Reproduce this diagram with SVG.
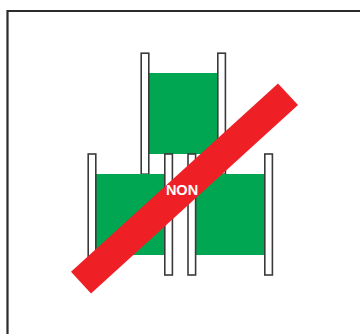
<svg xmlns="http://www.w3.org/2000/svg" width="360" height="334" viewBox="0 0 360 334">
<style>
.post{fill:#fff;stroke:#3a3a3a;stroke-width:1.6}
.load{fill:#00a651}
.frame{fill:none;stroke:#2b2b2b;stroke-width:2.2}
.bar{fill:#ef2025}
.lbl{font-family:"Liberation Sans",Arial,sans-serif;font-weight:700;font-size:14.5px;fill:#fff;text-anchor:middle}
</style>
<rect width="360" height="334" fill="#fff"/>
<path id="frame" class="frame" d="M7.5 334V11H360"/>
<g id="rack-top">
<rect class="load" x="149" y="73" width="68" height="81"/>
<rect class="post" x="141.2" y="53.2" width="7.6" height="121"/>
<rect class="post" x="217.8" y="53.2" width="7.6" height="121"/>
</g>
<g id="rack-left">
<rect class="load" x="96" y="174" width="68" height="81"/>
<rect class="post" x="88.2" y="154" width="7.6" height="121"/>
<rect class="post" x="164.8" y="154" width="7.6" height="121"/>
</g>
<g id="rack-right">
<rect class="load" x="196" y="174" width="68" height="81"/>
<rect class="post" x="188" y="154" width="7.6" height="121"/>
<rect class="post" x="264.8" y="154" width="7.6" height="121"/>
</g>
<g id="prohibition">
<polygon class="bar" points="278,83.5 298,105 91,293.5 71,271.7"/>
<text class="lbl" x="182" y="195">NON</text>
</g>
</svg>
